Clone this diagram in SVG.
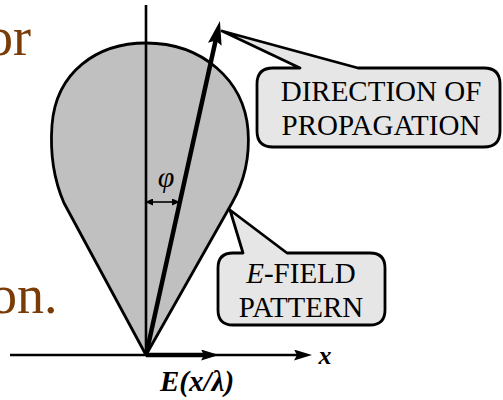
<svg xmlns="http://www.w3.org/2000/svg" width="503" height="400" viewBox="0 0 503 400">
<style>
.slide{font-family:"Liberation Serif","Times New Roman",serif;fill:#7a3c06;font-size:54px}
.lbl{font-family:"Liberation Serif","Times New Roman",serif;fill:#000;font-size:29px;text-anchor:middle}
.bubble{fill:#e6e6e6;stroke:#000;stroke-width:2.8;stroke-linejoin:round}
.lobe{fill:#c0c0c0;stroke:#000;stroke-width:2.8;stroke-linejoin:round}
.thin{stroke:#000;stroke-width:2.6;fill:none}
.bi{font-family:"Liberation Serif","Times New Roman",serif;font-weight:bold;font-style:italic}
</style>
<defs>
<marker id="hBig" viewBox="0 0 24 14" refX="8" refY="7" markerWidth="24" markerHeight="14" markerUnits="userSpaceOnUse" orient="auto">
<path d="M0,0 L24,7 L0,14 L4,7 Z" fill="#000"/>
</marker>
<marker id="hAx" viewBox="0 0 18 11" refX="4" refY="5.5" markerWidth="18" markerHeight="11" markerUnits="userSpaceOnUse" orient="auto">
<path d="M0,0 L18,5.5 L0,11 L3,5.5 Z" fill="#000"/>
</marker>
<marker id="hSm" viewBox="0 0 8 7" refX="2" refY="3.5" markerWidth="8" markerHeight="7" markerUnits="userSpaceOnUse" orient="auto-start-reverse">
<path d="M0,0 L8,3.5 L0,7 Z" fill="#000"/>
</marker>
</defs>
<text class="slide" x="-14" y="55">or</text>
<text class="slide" x="-10" y="313">on.</text>
<g id="lobe">
<path class="lobe" d="M146,355 L64,203 C54,180 50,152 52,125 C56,72 97,43 146,43 C202,43 244,80 248,130 C250,157 244,182 232,203 Z"/>
</g>
<g id="axes">
<line class="thin" x1="146" y1="5" x2="146" y2="355"/>
<line class="thin" x1="10" y1="355" x2="298" y2="355" stroke-width="3" marker-end="url(#hAx)"/>
<text x="325" y="364" class="bi" font-size="26" text-anchor="middle">x</text>
</g>
<g id="connectors">
<line x1="146" y1="355" x2="216.5" y2="36.5" stroke="#000" stroke-width="4.5" marker-end="url(#hBig)"/>
<line x1="146" y1="355" x2="205" y2="355" stroke="#000" stroke-width="4.5" marker-end="url(#hAx)"/>
<line x1="151" y1="202" x2="174" y2="202" stroke="#000" stroke-width="1.6" marker-start="url(#hSm)" marker-end="url(#hSm)"/>
</g>
<g id="phi">
<text x="166" y="187" font-family="Liberation Serif,serif" font-style="italic" font-size="30" text-anchor="middle">φ</text>
</g>
<g id="e-label">
<text x="197" y="391" class="bi" font-size="29" text-anchor="middle">E(x/λ)</text>
</g>
<g id="callout-direction">
<path class="bubble" d="M300,68 L222,31 L358,68 L484,68 Q500,68 500,84 L500,131 Q500,147 484,147 L273,147 Q257,147 257,131 L257,84 Q257,68 273,68 Z"/>
<text class="lbl" x="381" y="101">DIRECTION OF</text>
<text class="lbl" x="381" y="135">PROPAGATION</text>
</g>
<g id="callout-efield">
<path class="bubble" d="M243,253 L230,210 L287,253 L370,253 Q385,253 385,268 L385,310 Q385,325 370,325 L233,325 Q218,325 218,310 L218,268 Q218,253 233,253 Z"/>
<text class="lbl" x="301" y="283"><tspan font-style="italic">E</tspan>-FIELD</text>
<text class="lbl" x="301" y="317">PATTERN</text>
</g>
</svg>
